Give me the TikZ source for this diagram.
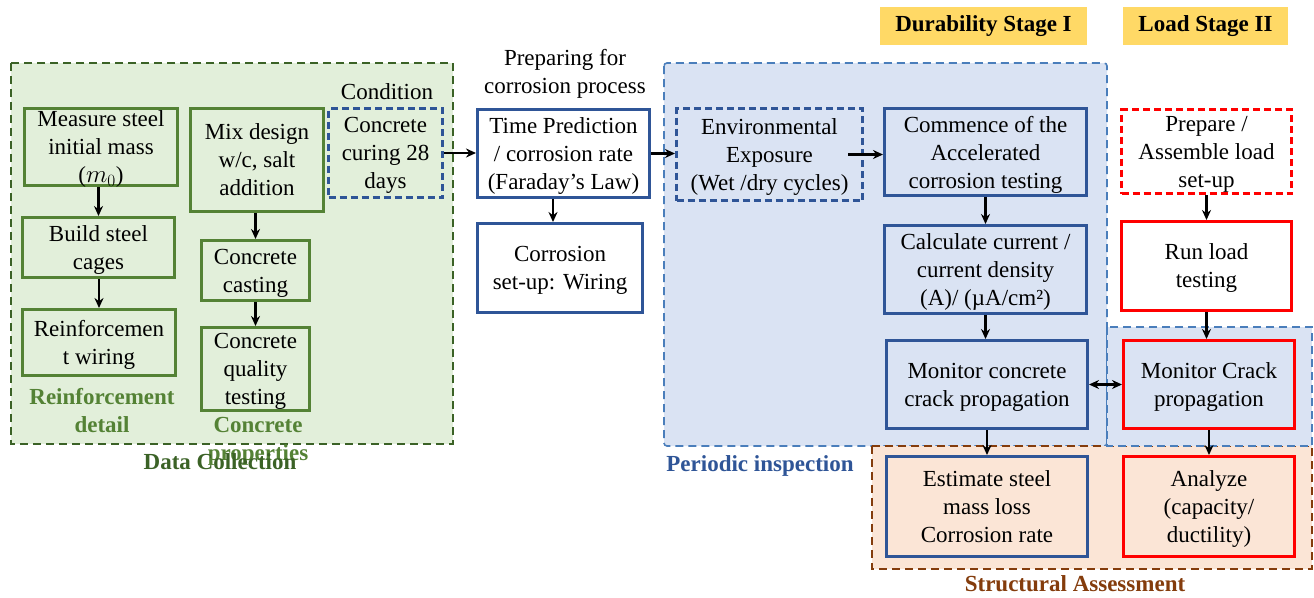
\documentclass[tikz,border=0pt]{standalone}
\usepackage{fontspec}
\setmainfont{Liberation Serif}
\usetikzlibrary{arrows.meta,positioning}
\definecolor{grnline}{HTML}{548235}
\definecolor{grnfill}{HTML}{E2EFDA}
\definecolor{grnpanel}{HTML}{3B6226}
\definecolor{bluline}{HTML}{2F5597}
\definecolor{blufill}{HTML}{DAE3F3}
\definecolor{bluepanel}{HTML}{4A7EBB}
\definecolor{brnfill}{HTML}{FBE5D6}
\definecolor{brnline}{HTML}{843C0C}
\definecolor{yelfill}{HTML}{FFD966}
\tikzset{
  box/.style={rectangle,draw,line width=3pt,align=center,inner sep=0pt,text depth=-9pt},
  gbox/.style={box,draw=grnline},
  bbox/.style={box,draw=bluline},
  rbox/.style={box,draw=red},
  dashbox/.style={dash pattern=on 7pt off 4pt},
  arr/.style={-{Stealth[length=10pt,width=9pt]},line width=2.2pt},
  darr/.style={{Stealth[length=10pt,width=9pt]}-{Stealth[length=10pt,width=9pt]},line width=2.2pt},
  lbl/.style={font=\fontsize{23}{28}\selectfont\bfseries,align=center,inner sep=0pt}
}
\begin{document}
\begin{tikzpicture}[x=1pt,y=-1pt,font=\fontsize{23}{28}\selectfont]
\useasboundingbox (0,0) rectangle (1314,597);
\draw[fill=grnfill,draw=grnpanel,line width=2pt,dash pattern=on 8pt off 5pt] (11,63) rectangle (453,444);
\draw[fill=blufill,draw=bluepanel,line width=1.6pt,dash pattern=on 8pt off 5pt,rounded corners=3pt] (664,63) rectangle (1107,446);
\draw[fill=brnfill,draw=brnline,line width=2pt,dash pattern=on 8pt off 5pt] (872,446) rectangle (1312,569);
\draw[fill=blufill,draw=bluepanel,line width=1.6pt,dash pattern=on 8pt off 5pt] (1107,327) rectangle (1312,446);

\node at (983.5,26)[lbl,fill=yelfill,minimum width=207,minimum height=38](dur){Durability Stage I};
\node at (1205.5,26)[lbl,fill=yelfill,minimum width=165,minimum height=38](load){Load Stage II};

\node at (101,147)[gbox,minimum width=153,minimum height=77](mass){Measure steel\\initial mass\\($m_0$)};
\node at (98.5,247.5)[gbox,minimum width=152,minimum height=60](cage){Build steel\\cages};
\node at (99,342.5)[gbox,minimum width=153,minimum height=66](wire){Reinforcemen\\t wiring};
\node at (257,160)[gbox,minimum width=133,minimum height=103](mix){Mix design\\w/c, salt\\addition};
\node at (255.5,270.5)[gbox,minimum width=108,minimum height=60](cast){Concrete\\casting};
\node at (255.5,369)[gbox,minimum width=108,minimum height=83](qual){Concrete\\quality\\testing};
\node at (385.5,153)[bbox,dashbox,minimum width=114,minimum height=89](cure){Concrete\\curing 28\\days};
\node at (387,92)(condlbl){Condition};

\node at (565,73.5)[align=center,inner sep=0pt](preplbl){Preparing for\\corrosion process};
\node at (563.5,153.5)[bbox,fill=white,minimum width=172,minimum height=88](time){Time Prediction\\/ corrosion rate\\(Faraday’s Law)};
\node at (560,268)[bbox,fill=white,minimum width=165,minimum height=89](setup){Corrosion\\set-up: Wiring};

\node at (769.5,154.5)[bbox,dashbox,minimum width=186,minimum height=92](env){Environmental\\Exposure\\(Wet /dry cycles)};
\node at (985.5,152)[bbox,minimum width=202,minimum height=87](acc){Commence of the\\Accelerated\\corrosion testing};
\node at (985.5,269.5)[bbox,minimum width=202,minimum height=88](curr){Calculate current /\\current density\\(A)/ (µA/cm²)};
\node at (987,384.5)[bbox,minimum width=201,minimum height=88](crackc){Monitor concrete\\crack propagation};
\node at (987,506.5)[bbox,minimum width=201,minimum height=100](loss){Estimate steel\\mass loss\\Corrosion rate};

\node at (1206.5,151.5)[rbox,dashbox,fill=white,minimum width=170,minimum height=84](prep){Prepare /\\Assemble load\\set-up};
\node at (1206.5,266)[rbox,fill=white,minimum width=170,minimum height=89](run){Run load\\testing};
\node at (1209,384.5)[rbox,minimum width=171,minimum height=88](crackl){Monitor Crack\\propagation};
\node at (1209,506.5)[rbox,minimum width=171,minimum height=100](anal){Analyze\\(capacity/\\ductility)};

\node at (102,411)[lbl,text=grnline](reinlbl){Reinforcement\\detail};
\node at (258,441)[lbl,text=grnline](conclbl){Concrete\\properties};
\node at (220,462)[lbl,text=grnpanel](datalbl){Data Collection};
\node at (760,466)[lbl,text=bluline](perlbl){Periodic inspection};
\node at (1075,584)[lbl,text=brnline](strlbl){Structural Assessment};

\draw[arr] (cage.north |- mass.south) -- (cage.north);
\draw[arr] (wire.north |- cage.south) -- (wire.north);
\draw[arr] (cast.north |- mix.south) -- (cast.north);
\draw[arr] (qual.north |- cast.south) -- (qual.north);
\draw[arr] (cure.east) -- (time.west |- cure.east);
\draw[arr] ([xshift=-7pt]setup.north |- time.south) -- ([xshift=-7pt]setup.north);
\draw[arr] (time.east) -- (env.west |- time.east);
\draw[arr] ([xshift=-16pt]env.east) -- (acc.west |- env.east);
\draw[arr] (acc.south) -- (curr.north);
\draw[arr] (curr.south) -- (crackc.north -| curr.south);
\draw[arr] (crackc.south) -- (loss.north);
\draw[darr] (crackc.east) -- (crackl.west);
\draw[arr] (prep.south) -- (run.north);
\draw[arr] (run.south) -- (crackl.north -| run.south);
\draw[arr] (crackl.south) -- (anal.north);
\end{tikzpicture}
\end{document}
